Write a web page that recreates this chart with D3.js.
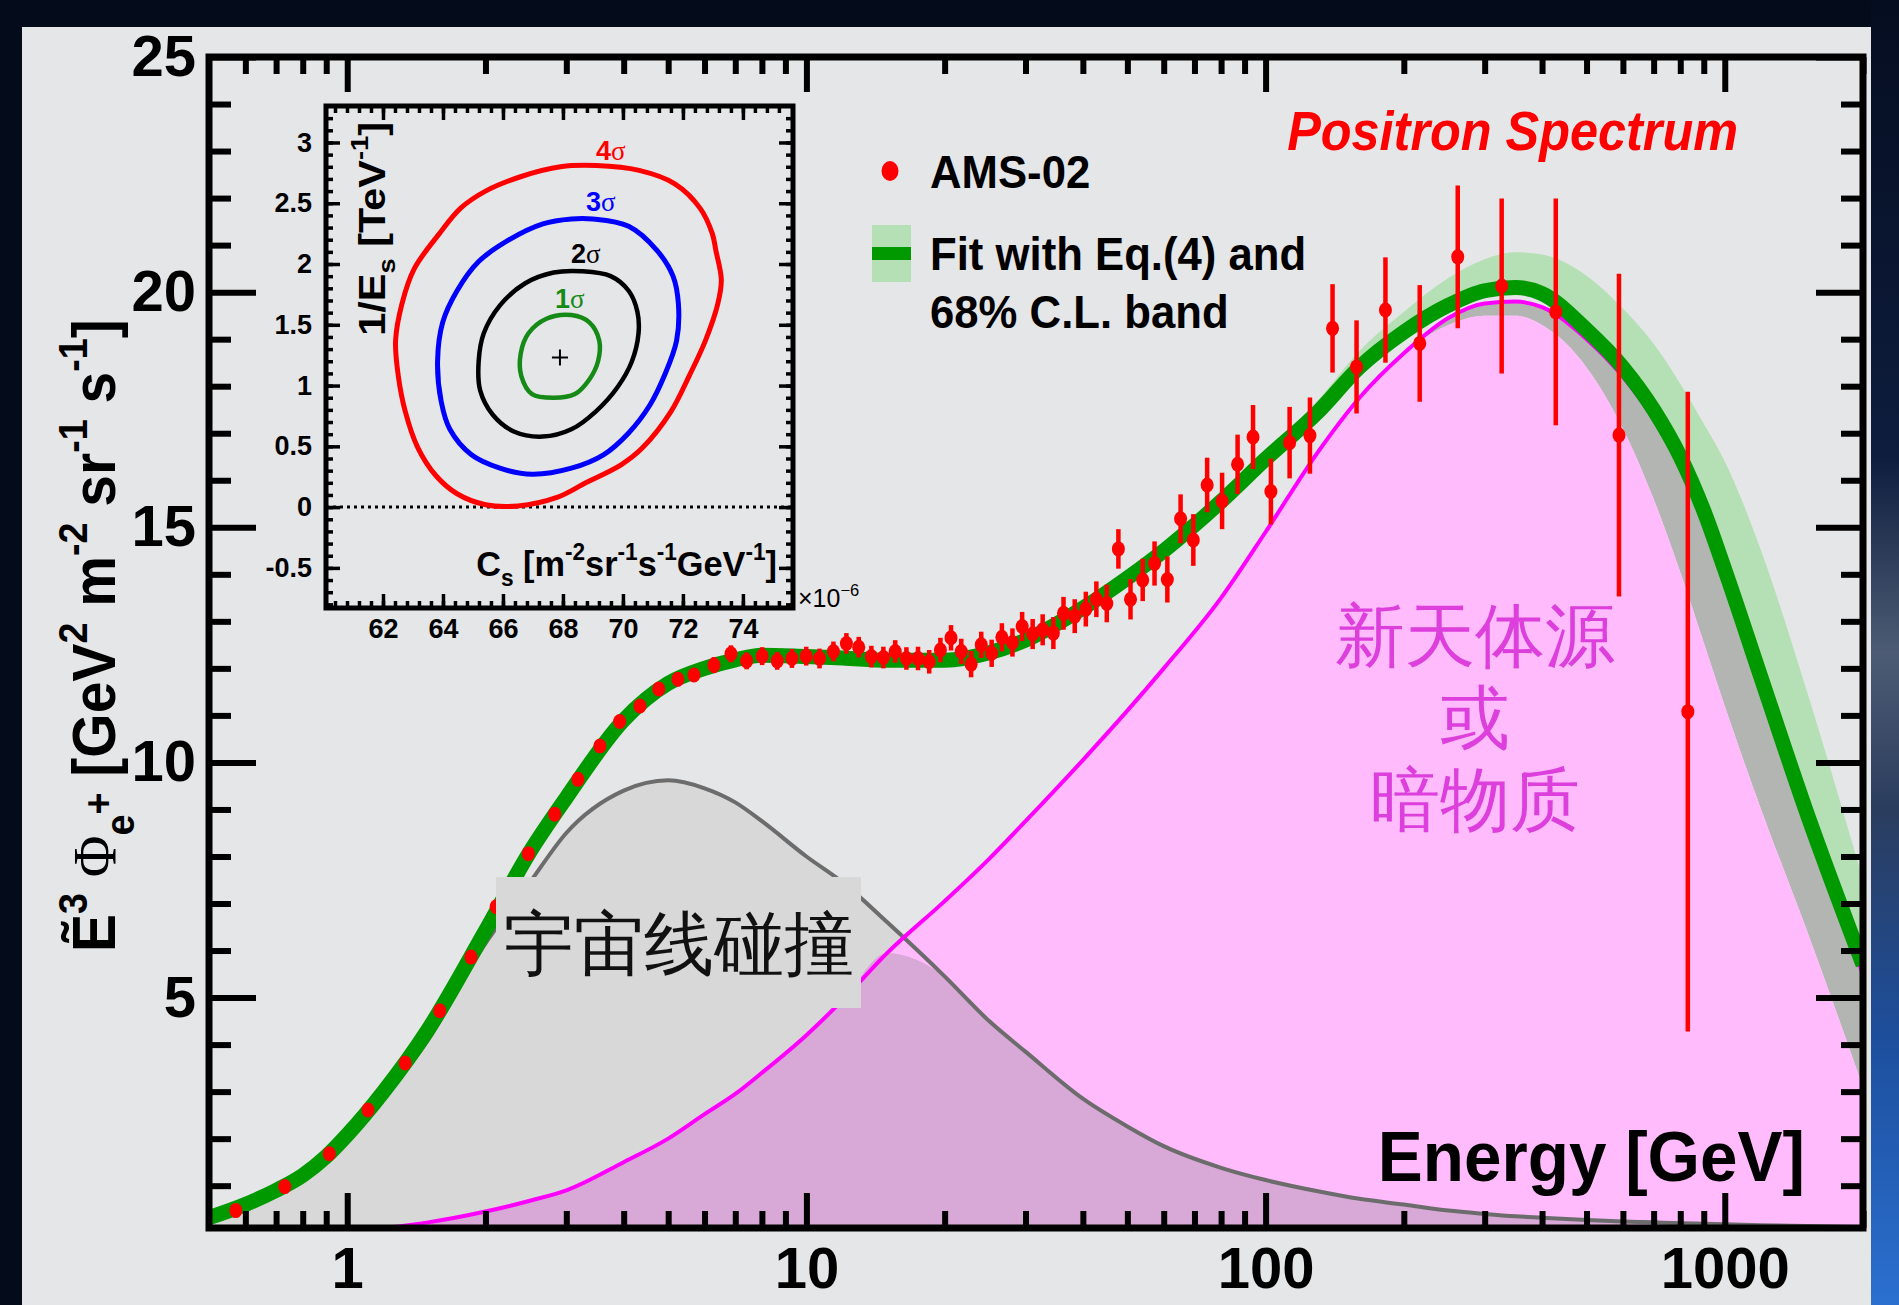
<!DOCTYPE html>
<html>
<head>
<meta charset="utf-8">
<script src="https://cdn.jsdelivr.net/npm/d3@7"></script>
<style>
body { margin: 0; background: #040b1a; }
svg text { font-family: "Liberation Sans", Arial, sans-serif; }
</style>
</head>
<body>
<svg id="chart" width="1899" height="1305"></svg>
<script>
// curve grid, GeV
var energy = [0.5,0.6,0.7,0.8,0.9,1,1.2,1.5,2,2.5,3,4,5,6,7,8,10,12,15,20,25,30,40,50,60,80,100,130,160,200,250,300,350,400,500,600,700,800,900,1000,1200,1500,2000];
// total fit (green line)
var fitTotal = [0.32,0.6,0.9,1.22,1.62,2.08,3.0,4.32,6.42,8.1,9.25,10.9,11.68,12.0,12.18,12.28,12.25,12.22,12.17,12.17,12.33,12.6,13.28,13.92,14.5,15.55,16.45,17.45,18.4,19.15,19.72,20.03,20.1,19.97,19.2,18.4,17.5,16.5,15.35,14.1,11.8,9.0,5.7];
// upper edge of the 68% C.L. band
var fitBandHi = [0.4,0.68,0.98,1.3,1.7,2.16,3.08,4.4,6.5,8.18,9.33,10.98,11.76,12.08,12.26,12.36,12.33,12.3,12.25,12.25,12.42,12.7,13.4,14.05,14.65,15.7,16.62,17.7,18.75,19.58,20.3,20.7,20.85,20.8,20.35,19.65,18.9,18.05,17.2,16.4,14.5,11.6,7.5];
// cosmic ray collisions (grey)
var cosmicRay = [0.3,0.55,0.85,1.15,1.5,1.95,2.85,4.1,6.15,7.45,8.5,9.4,9.62,9.45,9.15,8.75,8.0,7.45,6.6,5.45,4.5,3.85,2.85,2.26,1.84,1.38,1.12,0.88,0.72,0.6,0.47,0.4,0.35,0.32,0.27,0.24,0.22,0.2,0.19,0.18,0.16,0.14,0.12];
// new source / dark matter (pink fill)
var newSource = [0,0,0,0,0,0.02,0.1,0.22,0.45,0.68,0.9,1.5,2.0,2.52,2.95,3.4,4.2,4.95,5.95,7.05,7.95,8.75,10.05,11.1,12.0,13.5,14.9,16.6,17.75,18.7,19.3,19.5,19.5,19.3,18.4,17.1,15.6,14.05,12.55,11.2,9.0,6.5,3.1];
// magenta line, upper edge of the dark grey strip
var sourceEdge = [0,0,0,0,0,0.02,0.1,0.22,0.45,0.68,0.9,1.5,2.0,2.52,2.95,3.4,4.2,4.95,5.95,7.05,7.95,8.75,10.05,11.1,12.0,13.5,14.9,16.6,17.75,18.7,19.45,19.76,19.8,19.68,19.0,18.2,17.3,16.3,15.15,13.9,11.6,8.8,5.5];

// AMS-02 points
var amsE = [0.572,0.731,0.914,1.11,1.337,1.59,1.86,2.11,2.48,2.83,3.18,3.55,3.92,4.34,4.77,5.25,5.69,6.29,6.85,7.41,8.01,8.64,9.30,9.99,10.68,11.45,12.22,13.0,13.85,14.71,15.61,16.51,17.5,18.51,19.58,20.65,21.74,22.84,24.03,25.32,26.65,28.1,29.5,31.1,32.7,34.5,36.3,38.4,40.6,42.8,45.1,47.8,50.8,54.0,57.3,61.1,65.3,69.6,74.6,80.4,86.9,93.9,102.7,112.8,124.9,139.9,157.8,182.4,216.6,262.1,326.7,428.5,588.3,830.8];
var amsFlux = [0.47,0.98,1.68,2.61,3.61,4.72,5.86,6.93,8.06,8.90,9.64,10.35,10.87,11.2,11.56,11.77,11.86,12.07,12.31,12.16,12.26,12.16,12.21,12.26,12.21,12.36,12.53,12.45,12.25,12.23,12.36,12.21,12.21,12.14,12.39,12.65,12.36,12.09,12.50,12.32,12.66,12.55,12.89,12.73,12.82,12.75,13.17,13.11,13.26,13.47,13.38,14.54,13.47,13.88,14.23,13.89,15.18,14.73,15.9,15.56,16.34,16.92,15.76,16.80,16.95,19.23,18.41,19.62,18.91,20.75,20.13,19.58,16.96,11.08];
var amsErr = [0.03,0.03,0.04,0.05,0.06,0.07,0.08,0.09,0.1,0.1,0.11,0.12,0.12,0.13,0.14,0.15,0.15,0.17,0.18,0.18,0.19,0.19,0.2,0.2,0.21,0.21,0.22,0.22,0.23,0.23,0.24,0.24,0.25,0.25,0.26,0.27,0.27,0.28,0.28,0.29,0.3,0.3,0.31,0.32,0.33,0.34,0.35,0.36,0.37,0.38,0.4,0.42,0.43,0.45,0.47,0.49,0.52,0.55,0.58,0.6,0.63,0.68,0.7,0.76,0.81,0.94,0.99,1.12,1.24,1.52,1.86,2.41,3.43,6.8];

// inset contours [Cs (1e-6), 1/Es (TeV^-1)]
var sigma4 = [[69.11,2.81],[70.54,2.77],[71.73,2.66],[72.57,2.46],[72.98,2.25],[73.10,2.11],[73.28,1.87],[73.16,1.67],[72.75,1.37],[72.21,1.08],[71.61,0.79],[70.66,0.49],[69.95,0.35],[68.76,0.20],[67.80,0.08],[66.50,0.01],[65.42,0.02],[64.47,0.11],[63.76,0.26],[63.16,0.49],[62.74,0.79],[62.51,1.08],[62.42,1.37],[62.63,1.67],[63.04,1.96],[63.88,2.25],[64.59,2.46],[65.42,2.60],[66.61,2.72],[67.92,2.80]];
var sigma3 = [[68.99,2.37],[70.19,2.31],[71.14,2.11],[71.67,1.90],[71.85,1.67],[71.79,1.37],[71.38,1.08],[70.90,0.84],[70.19,0.61],[69.35,0.43],[68.28,0.32],[66.97,0.27],[65.90,0.32],[64.95,0.43],[64.23,0.64],[63.94,0.87],[63.82,1.20],[63.99,1.52],[64.47,1.78],[65.19,2.02],[66.14,2.19],[67.33,2.33],[68.28,2.37]];
var sigma2 = [[68.64,1.94],[69.59,1.90],[70.19,1.78],[70.48,1.61],[70.52,1.43],[70.30,1.20],[69.83,0.99],[69.11,0.79],[68.28,0.64],[67.33,0.58],[66.38,0.62],[65.66,0.76],[65.24,0.96],[65.19,1.20],[65.36,1.43],[65.90,1.66],[66.73,1.84],[67.69,1.93]];
var sigma1 = [[68.28,1.58],[68.88,1.52],[69.21,1.37],[69.17,1.20],[68.88,1.05],[68.40,0.93],[67.69,0.90],[66.97,0.93],[66.61,1.08],[66.59,1.26],[66.85,1.43],[67.45,1.55]];
var bestFit = [67.90, 1.23];
var sigmaNames = ["4σ", "3σ", "2σ", "1σ"];

// tick labels
var xMajor = [1, 10, 100, 1000];
var xMinor = [0.6,0.7,0.8,0.9,2,3,4,5,6,7,8,9,20,30,40,50,60,70,80,90,200,300,400,500,600,700,800,900,2000];
var yMajor = [5, 10, 15, 20, 25];
var yMinor = [1,2,3,4,6,7,8,9,11,12,13,14,16,17,18,19,21,22,23,24];
var insetXMajor = [62, 64, 66, 68, 70, 72, 74];
var insetYMajor = [-0.5, 0, 0.5, 1, 1.5, 2, 2.5, 3];

var svg = d3.select("#chart");
var defs = svg.append("defs");

// backdrop: dark slide with a light panel
var grad = defs.append("linearGradient").attr("id", "space")
  .attr("x1", 0).attr("y1", 0).attr("x2", 0).attr("y2", 1);
[[0, "#050d20"], [0.35, "#0e1d3e"], [0.5, "#4d5c74"], [0.62, "#2b3d5e"], [0.8, "#1d4f9e"], [1, "#2b70d0"]]
  .forEach(function(s) { grad.append("stop").attr("offset", s[0]).attr("stop-color", s[1]); });
svg.append("rect").attr("width", 1899).attr("height", 1305).attr("fill", "#040b1a");
svg.append("rect").attr("x", 1871).attr("y", 0).attr("width", 28).attr("height", 1305).attr("fill", "url(#space)");
svg.append("rect").attr("x", 22).attr("y", 27).attr("width", 1849).attr("height", 1278).attr("fill", "#e5e6e8");

var pLeft = 209, pRight = 1863, pTop = 57, pBottom = 1228;
var x = d3.scaleLog().domain([0.5, 2000]).range([pLeft, pRight]);
var y = d3.scaleLinear().domain([0.1, 25]).range([pBottom, pTop]);

defs.append("clipPath").attr("id", "plotClip").append("rect")
  .attr("x", pLeft).attr("y", pTop).attr("width", pRight - pLeft).attr("height", pBottom - pTop);

var rows = energy.map(function(e, i) {
  return { e: e, fit: fitTotal[i], hi: fitBandHi[i], sec: cosmicRay[i], src: newSource[i], edge: sourceEdge[i] };
});

var plot = svg.append("g").attr("clip-path", "url(#plotClip)");

function band(lo, hi) {
  return d3.area().x(function(d) { return x(d.e); })
    .y0(function(d) { return y(lo(d)); }).y1(function(d) { return y(hi(d)); })
    .curve(d3.curveMonotoneX);
}
function curve(f) {
  return d3.line().x(function(d) { return x(d.e); }).y(function(d) { return y(f(d)); })
    .curve(d3.curveMonotoneX);
}
var zero = function() { return 0; };

plot.append("path").datum(rows).attr("fill", "#b5e0b5")
  .attr("d", band(function(d) { return d.fit; }, function(d) { return d.hi; }));
plot.append("path").datum(rows).attr("fill", "#b3b5b2")
  .attr("d", band(function(d) { return d.src; }, function(d) { return d.edge; }));
plot.append("path").datum(rows).attr("fill", "#d8d8d8")
  .attr("d", band(zero, function(d) { return d.sec; }));
plot.append("path").datum(rows).attr("fill", "#ffbbfc")
  .attr("d", band(zero, function(d) { return d.src; }));
plot.append("path").datum(rows).attr("fill", "#d8a8d6")
  .attr("d", band(zero, function(d) { return Math.min(d.sec, d.src); }));

plot.append("path").datum(rows).attr("fill", "none").attr("stroke", "#6c6c6c").attr("stroke-width", 4)
  .attr("d", curve(function(d) { return d.sec; }));
plot.append("path").datum(rows).attr("fill", "none").attr("stroke", "#ff00ff").attr("stroke-width", 4)
  .attr("d", curve(function(d) { return d.edge; }));
plot.append("path").datum(rows).attr("fill", "none").attr("stroke", "#009900").attr("stroke-width", 15)
  .attr("stroke-linejoin", "round")
  .attr("d", curve(function(d) { return d.fit; }));

var pts = amsE.map(function(e, i) { return { e: e, v: amsFlux[i], err: amsErr[i] }; });
plot.selectAll(".ebar").data(pts).enter().append("line")
  .attr("x1", function(d) { return x(d.e); }).attr("x2", function(d) { return x(d.e); })
  .attr("y1", function(d) { return y(d.v - d.err); }).attr("y2", function(d) { return y(d.v + d.err); })
  .attr("stroke", "#ff0000").attr("stroke-width", 4.5);
plot.selectAll(".pt").data(pts).enter().append("ellipse")
  .attr("cx", function(d) { return x(d.e); }).attr("cy", function(d) { return y(d.v); })
  .attr("rx", 6.5).attr("ry", 7.5).attr("fill", "#ff0000");

// text helpers
function put(str, px, py, size, o) {
  o = o || {};
  var t = svg.append("text")
    .attr("transform", "translate(" + px + "," + py + ")" + (o.rot ? " rotate(" + o.rot + ")" : "") +
      " scale(" + (o.sx || 1) + ",1)")
    .attr("font-size", size)
    .attr("font-weight", o.weight || "bold")
    .attr("text-anchor", o.anchor || "start")
    .attr("fill", o.fill || "#000");
  if (o.family) t.attr("font-family", o.family);
  if (o.italic) t.attr("font-style", "italic");
  if (str) t.text(str);
  return t;
}
function rich(t, parts, size) {
  var cur = 0;
  parts.forEach(function(p) {
    var off = p.up ? -size * 0.45 : p.down ? size * 0.28 : 0;
    if (p.off !== undefined) off = p.off * size;
    var s = t.append("tspan").attr("dy", off - cur).text(p.t);
    if (p.up || p.down || p.small) s.attr("font-size", size * 0.66);
    if (p.family) s.attr("font-family", p.family).attr("font-weight", "normal");
    cur = off;
  });
}

// cosmic ray label box
svg.append("rect").attr("x", 496).attr("y", 877).attr("width", 365).attr("height", 131).attr("fill", "#d8d8d8");
put("宇宙线碰撞", 504, 968, 70, { weight: "normal", family: "Noto Sans CJK SC", fill: "#111" });

["新天体源", "或", "暗物质"].forEach(function(s, i) {
  put(s, 1475, [660, 742, 824][i], 70, { weight: "normal", family: "Noto Sans CJK SC", fill: "#dc3fdc", anchor: "middle" });
});

// main axes
function styleAxis(g, w) {
  g.select(".domain").remove();
  g.selectAll(".tick line").attr("stroke", "#000").attr("stroke-width", w);
  g.selectAll(".tick text").attr("font-size", 58).attr("font-weight", "bold").attr("fill", "#000")
    .attr("font-family", "Liberation Sans, Arial, sans-serif");
}
var fmt = function(d) { return String(d); };
var none = function() { return ""; };

styleAxis(svg.append("g").attr("transform", "translate(0," + pBottom + ")")
  .call(d3.axisBottom(x).tickValues(xMajor).tickSize(-35).tickPadding(19).tickFormat(fmt)), 6);
styleAxis(svg.append("g").attr("transform", "translate(0," + pBottom + ")")
  .call(d3.axisBottom(x).tickValues(xMinor).tickSize(-17).tickFormat(none)), 6);
styleAxis(svg.append("g").attr("transform", "translate(0," + pTop + ")")
  .call(d3.axisTop(x).tickValues(xMajor).tickSize(-35).tickFormat(none)), 6);
styleAxis(svg.append("g").attr("transform", "translate(0," + pTop + ")")
  .call(d3.axisTop(x).tickValues(xMinor).tickSize(-17).tickFormat(none)), 6);
styleAxis(svg.append("g").attr("transform", "translate(" + pLeft + ",0)")
  .call(d3.axisLeft(y).tickValues(yMajor).tickSize(-47).tickPadding(13).tickFormat(fmt)), 6);
styleAxis(svg.append("g").attr("transform", "translate(" + pLeft + ",0)")
  .call(d3.axisLeft(y).tickValues(yMinor).tickSize(-22).tickFormat(none)), 6);
styleAxis(svg.append("g").attr("transform", "translate(" + pRight + ",0)")
  .call(d3.axisRight(y).tickValues(yMajor).tickSize(-47).tickFormat(none)), 6);
styleAxis(svg.append("g").attr("transform", "translate(" + pRight + ",0)")
  .call(d3.axisRight(y).tickValues(yMinor).tickSize(-22).tickFormat(none)), 6);
svg.append("rect").attr("x", pLeft).attr("y", pTop).attr("width", pRight - pLeft).attr("height", pBottom - pTop)
  .attr("fill", "none").attr("stroke", "#000").attr("stroke-width", 7);

// axis titles
put("Energy [GeV]", 1805, 1181, 71, { anchor: "end", sx: 0.95 });
var yt = put(null, 115, 952, 62, { rot: -90, sx: 0.92 });
rich(yt, [
  { t: "Ẽ" }, { t: "3", up: true }, { t: " " },
  { t: "Φ", family: "Liberation Serif" }, { t: "e", down: true, off: 0.3 }, { t: "+", small: true, off: -0.05 },
  { t: " [GeV" }, { t: "2", up: true }, { t: " m" }, { t: "-2", up: true },
  { t: " sr" }, { t: "-1", up: true }, { t: " s" }, { t: "-1", up: true }, { t: "]" }
], 62);

// title and legend
put("Positron Spectrum", 1738, 150, 56, { anchor: "end", italic: true, fill: "#ff0000", sx: 0.9 });
svg.append("ellipse").attr("cx", 890).attr("cy", 171).attr("rx", 8.5).attr("ry", 10).attr("fill", "#ff0000");
put("AMS-02", 930, 188, 46, { sx: 0.95 });
svg.append("rect").attr("x", 872).attr("y", 225).attr("width", 39).attr("height", 57).attr("fill", "#b5e0b5");
svg.append("rect").attr("x", 872).attr("y", 247).attr("width", 39).attr("height", 13).attr("fill", "#009900");
put("Fit with Eq.(4) and", 930, 270, 46, { sx: 0.95 });
put("68% C.L. band", 930, 328, 46, { sx: 0.95 });

// inset: confidence contours
var il = 326, ir = 793, itop = 106, ibot = 608;
var xi = d3.scaleLinear().domain([60.1, 75.67]).range([il, ir]);
var yi = d3.scaleLinear().domain([-0.83, 3.30]).range([ibot, itop]);
var inset = svg.append("g");

inset.append("line").attr("x1", il).attr("x2", ir).attr("y1", yi(0)).attr("y2", yi(0))
  .attr("stroke", "#000").attr("stroke-width", 3).attr("stroke-dasharray", "3,4");

var contourLine = d3.line().x(function(d) { return xi(d[0]); }).y(function(d) { return yi(d[1]); })
  .curve(d3.curveCatmullRomClosed);
var contours = [sigma4, sigma3, sigma2, sigma1];
var cColors = ["#ff0000", "#0000ff", "#000000", "#168a16"];
var cWidths = [5, 5, 4.5, 4.5];
contours.forEach(function(c, i) {
  inset.append("path").datum(c).attr("fill", "none").attr("stroke", cColors[i])
    .attr("stroke-width", cWidths[i]).attr("d", contourLine);
});
inset.append("path").attr("stroke", "#000").attr("stroke-width", 2)
  .attr("d", "M" + (xi(bestFit[0]) - 8) + "," + yi(bestFit[1]) + "h16M" + xi(bestFit[0]) + "," + (yi(bestFit[1]) - 8) + "v16");

var labelPos = [[596, 160], [586, 211], [571, 263], [555, 308]];
sigmaNames.forEach(function(s, i) {
  var t = put(null, labelPos[i][0], labelPos[i][1], 27, { fill: cColors[i] });
  rich(t, [{ t: s.charAt(0) }, { t: s.charAt(1), family: "Liberation Serif" }], 27);
});

function styleInset(g) {
  g.select(".domain").remove();
  g.selectAll(".tick line").attr("stroke", "#000").attr("stroke-width", 3.5);
  g.selectAll(".tick text").attr("font-size", 27).attr("font-weight", "bold").attr("fill", "#000")
    .attr("font-family", "Liberation Sans, Arial, sans-serif");
}
var xiMinor = d3.range(60.4, 75.6, 0.4);
var yiMinor = d3.range(-0.8, 3.3, 0.1);
styleInset(inset.append("g").attr("transform", "translate(0," + ibot + ")")
  .call(d3.axisBottom(xi).tickValues(insetXMajor).tickSize(-14).tickPadding(11).tickFormat(fmt)));
styleInset(inset.append("g").attr("transform", "translate(0," + ibot + ")")
  .call(d3.axisBottom(xi).tickValues(xiMinor).tickSize(-7).tickFormat(none)));
styleInset(inset.append("g").attr("transform", "translate(0," + itop + ")")
  .call(d3.axisTop(xi).tickValues(insetXMajor).tickSize(-14).tickFormat(none)));
styleInset(inset.append("g").attr("transform", "translate(0," + itop + ")")
  .call(d3.axisTop(xi).tickValues(xiMinor).tickSize(-7).tickFormat(none)));
styleInset(inset.append("g").attr("transform", "translate(" + il + ",0)")
  .call(d3.axisLeft(yi).tickValues(insetYMajor).tickSize(-14).tickPadding(14).tickFormat(fmt)));
styleInset(inset.append("g").attr("transform", "translate(" + il + ",0)")
  .call(d3.axisLeft(yi).tickValues(yiMinor).tickSize(-7).tickFormat(none)));
styleInset(inset.append("g").attr("transform", "translate(" + ir + ",0)")
  .call(d3.axisRight(yi).tickValues(insetYMajor).tickSize(-14).tickFormat(none)));
styleInset(inset.append("g").attr("transform", "translate(" + ir + ",0)")
  .call(d3.axisRight(yi).tickValues(yiMinor).tickSize(-7).tickFormat(none)));
inset.append("rect").attr("x", il).attr("y", itop).attr("width", ir - il).attr("height", ibot - itop)
  .attr("fill", "none").attr("stroke", "#000").attr("stroke-width", 5);

var xt = put(null, 777, 576, 35, { anchor: "end", sx: 0.98 });
rich(xt, [{ t: "C" }, { t: "s", down: true }, { t: " [m" }, { t: "-2", up: true }, { t: "sr" }, { t: "-1", up: true },
  { t: "s" }, { t: "-1", up: true }, { t: "GeV" }, { t: "-1", up: true }, { t: "]" }], 35);
var yt2 = put(null, 385, 122, 37, { anchor: "end", rot: -90, sx: 1.12 });
rich(yt2, [{ t: "1/E" }, { t: "s", down: true }, { t: " [TeV" }, { t: "-1", up: true }, { t: "]" }], 37);
var ex = put(null, 798, 607, 25, { weight: "normal" });
rich(ex, [{ t: "×10" }, { t: "−6", up: true }], 25);
</script>
</body>
</html>
